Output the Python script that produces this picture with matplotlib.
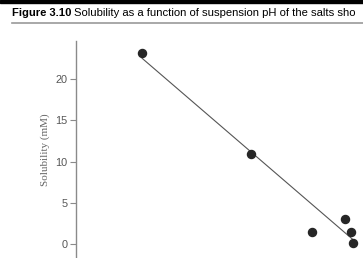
import matplotlib.pyplot as plt
from matplotlib.patches import Rectangle
from matplotlib.lines import Line2D

# data (x axis is cropped away in the source)
ph = [4.83, 6.20, 6.96, 7.37, 7.45, 7.48]
solubility = [23.2, 10.9, 1.4, 3.0, 1.4, 0.1]
fit_ph = [4.83, 7.48]
fit_sol = [22.55, 0.45]
yticks = [0, 5, 10, 15, 20]

fig = plt.figure(figsize=(3.63, 2.58), dpi=100)

# caption header (cropped in the source, only "...sho" is visible)
fig.patches.append(Rectangle((0, 1 - 3 / 258), 1, 3 / 258, transform=fig.transFigure,
                             color='black', zorder=5))
fig.lines.append(Line2D([12 / 363, 1], [1 - 23.5 / 258] * 2, transform=fig.transFigure,
                        color='#9a9a9a', lw=1.2))
t = fig.text(12 / 363, 1 - 16 / 258, 'Figure 3.10', fontsize=8.1, fontweight='bold',
             family='Liberation Sans', va='baseline')
fig.canvas.draw()
bb = t.get_window_extent()
fig.text(bb.x1 / 363 + 3 / 363, 1 - 16 / 258,
         'Solubility as a function of suspension pH of the salts sho',
         fontsize=8.1, family='Liberation Sans', va='baseline')

ax = fig.add_axes([76 / 363, 0, 1 - 76 / 363, (258 - 41) / 258])
ax.plot(fit_ph, fit_sol, color='#555555', lw=0.8)
ax.plot(ph, solubility, 'o', color='#262626', ms=5.8, clip_on=False)

ax.set_xlim(4, 7.6)
ax.set_ylim(-1.74, 24.66)
ax.set_yticks(yticks)
ax.set_xticks([])
for s in ['top', 'right', 'bottom']:
    ax.spines[s].set_visible(False)
ax.spines['left'].set_color('#8a8a8a')
ax.spines['left'].set_linewidth(1.0)
ax.tick_params(axis='y', colors='#8a8a8a', labelcolor='#555555', labelsize=7.8,
               length=4, width=0.8, pad=2)
for lab in ax.get_yticklabels():
    lab.set_family('Liberation Sans')
ax.set_ylabel('Solubility (mM)', family='Liberation Serif', fontsize=8,
              color='#666666', labelpad=4)

fig.savefig('out.png', dpi=100)
